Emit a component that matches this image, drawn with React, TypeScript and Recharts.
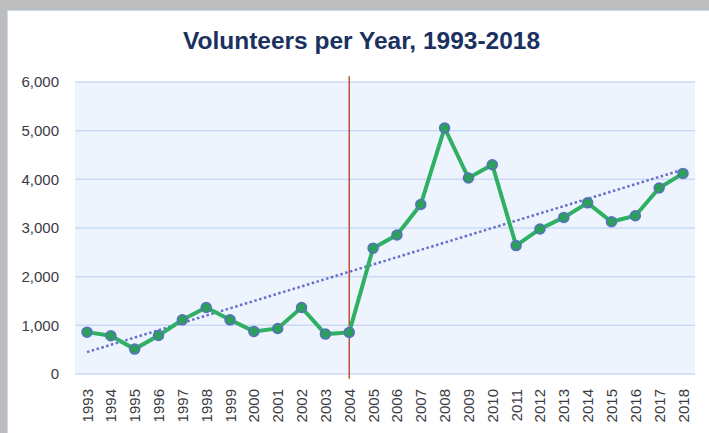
import { CartesianGrid, Line, LineChart, ReferenceLine, XAxis, YAxis } from 'recharts';

const years = [
	'1993', '1994', '1995', '1996', '1997', '1998', '1999', '2000', '2001', '2002', '2003', '2004', '2005',
	'2006', '2007', '2008', '2009', '2010', '2011', '2012', '2013', '2014', '2015', '2016', '2017', '2018',
];
const volunteers = [
	860, 785, 512, 790, 1113, 1366, 1113, 875, 936, 1366, 820, 855, 2586,
	2857, 3483, 5055, 4027, 4300, 2639, 2980, 3218, 3517, 3129, 3252, 3823, 4122,
];
const yTicks = [0, 1000, 2000, 3000, 4000, 5000, 6000];
// trendline ends
const trendStart = 450;
const trendEnd = 4200;
const markerYear = '2004';

const data = years.map((year, i) => ({ year, volunteers: volunteers[i] }));

const XTick = ({ x, y, payload }: any) => (
	<g transform={`translate(${x},${y})`}>
		<text
			x={0}
			y={0}
			transform='rotate(-90)'
			textAnchor='end'
			dominantBaseline='central'
			fontFamily='Liberation Sans'
			fontSize={15}
			fill='#3a3a44'>
			{payload.value}
		</text>
	</g>
);

const App = () => {
	return (
		<div style={{ position: 'absolute', left: 0, top: 0, width: 709, height: 433, background: '#bdbdbd', overflow: 'hidden' }}>
			<div
				style={{
					position: 'absolute',
					left: 7,
					top: 10,
					right: -2,
					bottom: -2,
					background: '#fff',
					border: '1px solid #c9daf3',
				}}
			/>
			<svg width={709} height={80} style={{ position: 'absolute', left: 0, top: 0 }}>
				<text
					x={183}
					y={49}
					textLength={357}
					lengthAdjust='spacingAndGlyphs'
					fontFamily='Liberation Sans'
					fontWeight='bold'
					fontSize={23}
					fill='#1b3160'>
					Volunteers per Year, 1993-2018
				</text>
			</svg>
			<div style={{ position: 'absolute', left: 0, top: 0 }}>
				<LineChart
					width={709}
					height={433}
					data={data}
					margin={{ top: 82, right: 14, bottom: 0, left: 0 }}>
					<CartesianGrid
						vertical={false}
						stroke='#c9daf6'
						strokeWidth={1.5}
						fill='#eef4fd'
					/>
					<XAxis
						dataKey='year'
						height={59}
						padding={{ left: 12, right: 12 }}
						axisLine={false}
						tickLine={false}
						tickSize={0}
						tickMargin={15}
						interval={0}
						tick={<XTick />}
					/>
					<YAxis
						width={75}
						domain={[0, 6000]}
						ticks={yTicks}
						axisLine={false}
						tickLine={false}
						tickSize={0}
						tickMargin={16}
						tickFormatter={(v: number) => v.toLocaleString('en-US')}
						tick={{ fontFamily: 'Liberation Sans', fontSize: 15, fill: '#3a3a44' }}
					/>
					<ReferenceLine
						segment={[
							{ x: markerYear, y: 6120 },
							{ x: markerYear, y: -100 },
						]}
						stroke='#c0502f'
						strokeWidth={1.5}
						ifOverflow='visible'
					/>
					<ReferenceLine
						segment={[
							{ x: years[0], y: trendStart },
							{ x: years[years.length - 1], y: trendEnd },
						]}
						stroke='#6670cc'
						strokeWidth={2.5}
						strokeDasharray='2.5 2.5'
						ifOverflow='visible'
					/>
					<Line
						dataKey='volunteers'
						stroke='#2fb062'
						strokeWidth={4}
						dot={{ r: 5, fill: '#2ba05a', stroke: '#5a6fc2', strokeWidth: 1.5 }}
						isAnimationActive={false}
					/>
				</LineChart>
			</div>
		</div>
	);
};

export default App;
